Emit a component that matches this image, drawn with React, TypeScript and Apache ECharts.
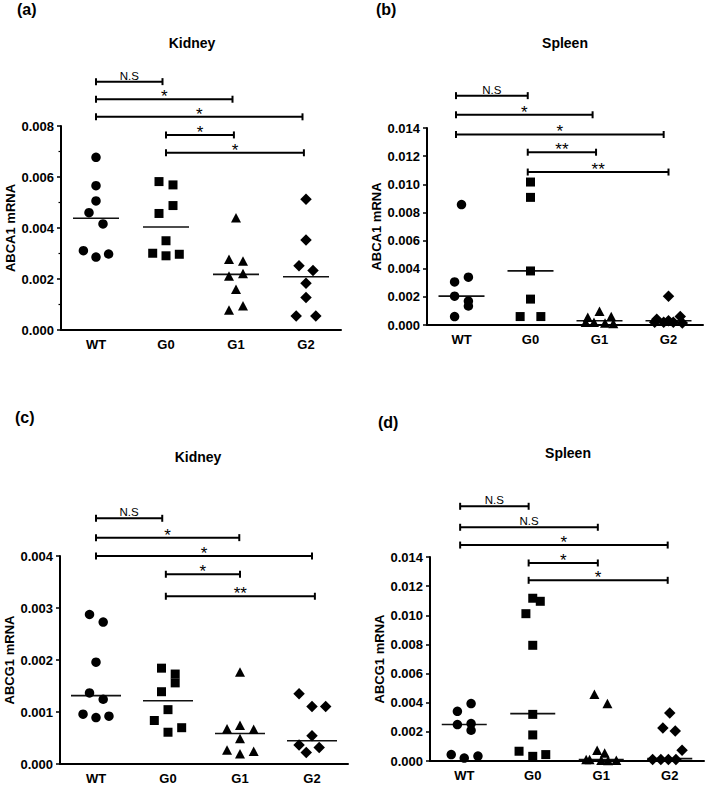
import React, { useEffect, useRef } from "react";
import * as echarts from "echarts";

const FONT = '"Liberation Sans", Arial, Helvetica, sans-serif';

const categories = ["WT", "G0", "G1", "G2"];
const yTickLabels = (v: number) => v.toFixed(3);

// Panel (a) Kidney ABCA1
const aWT = [0.00677, 0.00566, 0.00506, 0.0046, 0.00416, 0.00311, 0.00286, 0.00298];
const aWTx = [0, 0, 0, -0.1, 0.1, -0.18, 0, 0.18];
const aG0 = [0.00582, 0.00569, 0.00488, 0.00457, 0.0035, 0.00301, 0.00291, 0.00297];
const aG0x = [-0.1, 0.1, 0.1, -0.1, 0, -0.19, 0, 0.19];
const aG1 = [0.0044, 0.00277, 0.00271, 0.00212, 0.00222, 0.0016, 0.00078, 0.00095];
const aG1x = [0, -0.1, 0.1, -0.1, 0.1, 0, -0.1, 0.1];
const aG2 = [0.00513, 0.00353, 0.00252, 0.00233, 0.00183, 0.00127, 0.00055, 0.00055];
const aG2x = [0, 0, -0.1, 0.1, 0, 0, -0.14, 0.14];
const aMedians = [0.00438, 0.00404, 0.00218, 0.00209];
const aBrackets = [[0, 0.95, 0.00974], [0, 1.95, 0.00905], [0, 2.95, 0.00836], [1, 1.97, 0.00765], [1, 2.97, 0.00695]];
const aBracketLabels = ["N.S", "*", "*", "*", "*"];

// Panel (b) Spleen ABCA1
const bWT = [0.00856, 0.0034, 0.00306, 0.00205, 0.0017, 0.00135, 0.0006];
const bWTx = [0, 0.1, -0.1, -0.1, 0.1, 0.1, -0.1];
const bG0 = [0.01016, 0.00907, 0.00384, 0.00184, 0.0006, 0.0006];
const bG0x = [0, 0, 0, 0, -0.15, 0.15];
const bG1 = [0.00098, 0.00055, 0.0006, 0.0002, 0.00015, 0.0002, 0.0001];
const bG1x = [0, -0.17, 0.17, -0.08, 0.08, -0.2, 0.2];
const bG2 = [0.00205, 0.0006, 0.0004, 0.0002, 0.0002, 0.0002, 0.00015, 0.0003];
const bG2x = [0, 0.17, -0.17, -0.2, -0.07, 0.07, 0.2, 0];
const bMedians = [0.00205, 0.00385, 0.0003, 0.0003];
const bBrackets = [[-0.08, 0.96, 0.0163], [-0.08, 1.9, 0.01494], [-0.08, 2.93, 0.01354], [0.96, 1.95, 0.01228], [0.96, 3, 0.01087]];
const bBracketLabels = ["N.S", "*", "*", "**", "**"];

// Panel (c) Kidney ABCG1
const cWT = [0.002875, 0.00273, 0.001957, 0.001366, 0.001245, 0.000957, 0.000894, 0.000919];
const cWTx = [-0.09, 0.1, 0, -0.09, 0.1, -0.18, 0, 0.18];
const cG0 = [0.001843, 0.00173, 0.00156, 0.00139, 0.001045, 0.000837, 0.000698, 0.000611];
const cG0x = [-0.09, 0.1, 0.1, -0.09, 0, -0.19, 0.19, 0];
const cG1 = [0.001768, 0.00068, 0.000743, 0.000668, 0.000491, 0.000271, 0.000195, 0.000245];
const cG1x = [0, -0.18, 0, 0.19, 0, -0.18, 0, 0.19];
const cG2 = [0.001353, 0.001107, 0.001107, 0.000541, 0.000365, 0.000315, 0.000221];
const cG2x = [-0.18, 0, 0.19, 0, -0.18, 0.1, -0.08];
const cMedians = [0.001315, 0.001215, 0.000586, 0.000447];
const cBrackets = [[0, 0.92, 0.004725], [0, 1.99, 0.004353], [0, 3, 0.004], [0.97, 2, 0.003649], [0.97, 3.04, 0.003226]];
const cBracketLabels = ["N.S", "*", "*", "*", "**"];

// Panel (d) Spleen ABCG1
const dWT = [0.00394, 0.00341, 0.0025, 0.00257, 0.00211, 0.00044, 0.0002, 0.00034];
const dWTx = [0.1, -0.1, -0.1, 0.1, 0.1, -0.19, 0, 0.2];
const dG0 = [0.01117, 0.01096, 0.01011, 0.00794, 0.0032, 0.00179, 0.00067, 0.00032, 0.00044];
const dG0x = [0, 0.11, -0.1, 0, 0, 0, -0.2, 0, 0.19];
const dG1 = [0.00458, 0.00394, 0.00073, 0.00055, 0.0001, 0.00005, 0.00003, 0.00005, 0.0001];
const dG1x = [-0.1, 0.09, -0.06, 0.05, -0.17, 0, 0.1, 0.22, -0.22];
const dG2 = [0.0033, 0.00227, 0.00206, 0.00073, 0.0001, 0.0001, 0.0001, 0.0001];
const dG2x = [0, -0.1, 0.08, 0.18, -0.25, -0.13, -0.02, 0.09];
const dMedians = [0.0025, 0.00325, 0.0001, 0.00016];
const dBrackets = [[-0.06, 0.94, 0.01748], [-0.06, 1.95, 0.01604], [-0.06, 2.97, 0.01482], [0.94, 1.95, 0.01359], [0.94, 2.97, 0.0124]];
const dBracketLabels = ["N.S", "N.S", "*", "*", "*"];

const symbols = ["circle", "rect", "triangle", "diamond"];
const symbolSizes: any[] = [9.5, 9, [10, 9.5], 11.5];

const panelsData = [
  { letter: "(a)", title: "Kidney", yName: "ABCA1 mRNA", yMax: 0.008, yInterval: 0.002, minor: true,
    groups: [[aWT, aWTx], [aG0, aG0x], [aG1, aG1x], [aG2, aG2x]], medians: aMedians, brackets: aBrackets, labels: aBracketLabels },
  { letter: "(b)", title: "Spleen", yName: "ABCA1 mRNA", yMax: 0.014, yInterval: 0.002, minor: false,
    groups: [[bWT, bWTx], [bG0, bG0x], [bG1, bG1x], [bG2, bG2x]], medians: bMedians, brackets: bBrackets, labels: bBracketLabels },
  { letter: "(c)", title: "Kidney", yName: "ABCG1 mRNA", yMax: 0.004, yInterval: 0.001, minor: false,
    groups: [[cWT, cWTx], [cG0, cG0x], [cG1, cG1x], [cG2, cG2x]], medians: cMedians, brackets: cBrackets, labels: cBracketLabels },
  { letter: "(d)", title: "Spleen", yName: "ABCG1 mRNA", yMax: 0.014, yInterval: 0.002, minor: false,
    groups: [[dWT, dWTx], [dG0, dG0x], [dG1, dG1x], [dG2, dG2x]], medians: dMedians, brackets: dBrackets, labels: dBracketLabels },
];

const layouts = [
  { left: 61, top: 126, width: 280, height: 204, letterX: 17, letterY: 1, titleX: 192, titleY: 43, medianW: 46 },
  { left: 427, top: 128, width: 276, height: 197, letterX: 376, letterY: 1, titleX: 565, titleY: 43, medianW: 46 },
  { left: 60, top: 556, width: 288, height: 212, letterX: 15, letterY: 409, titleX: 198, titleY: 457, medianW: 50 },
  { left: 430, top: 557, width: 274, height: 204, letterX: 378, letterY: 414, titleX: 568, titleY: 453, medianW: 45 },
];

function buildOption() {
  const grid: any[] = [];
  const xAxis: any[] = [];
  const yAxis: any[] = [];
  const series: any[] = [];
  const graphic: any[] = [];

  panelsData.forEach((p, i) => {
    const L = layouts[i];
    grid.push({ left: L.left, top: L.top, width: L.width, height: L.height, containLabel: false });
    xAxis.push({
      type: "value", gridIndex: i, min: -0.5, max: 3.5,
      axisLine: { show: true, onZero: false, lineStyle: { color: "#000", width: 2 } },
      axisTick: { show: false }, splitLine: { show: false },
      axisLabel: {
        customValues: [0, 1, 2, 3],
        formatter: (v: number) => categories[Math.round(v)] ?? "",
        color: "#000", fontWeight: "bold", fontSize: 13, fontFamily: FONT, margin: 8,
      },
    });
    yAxis.push({
      type: "value", gridIndex: i, min: 0, max: p.yMax, interval: p.yInterval,
      axisLine: { show: true, onZero: false, lineStyle: { color: "#000", width: 2 } },
      axisTick: { show: true, length: 4, lineStyle: { color: "#000", width: 1.5 } },
      minorTick: { show: p.minor, splitNumber: 2, length: 2.5, lineStyle: { color: "#000", width: 1.2 } },
      splitLine: { show: false }, minorSplitLine: { show: false },
      axisLabel: { formatter: yTickLabels, color: "#000", fontWeight: "bold", fontSize: 13, fontFamily: FONT, margin: 7 },
      name: p.yName, nameLocation: "middle", nameGap: 44,
      nameTextStyle: { color: "#000", fontWeight: "bold", fontSize: 13, fontFamily: FONT },
    });

    series.push({
      type: "scatter", xAxisIndex: i, yAxisIndex: i, z: 1,
      symbol: "rect", symbolSize: [L.medianW, 1.6],
      itemStyle: { color: "#111", opacity: 1 },
      data: p.medians.map((m, k) => [k, m]),
    });

    p.groups.forEach((g, k) => {
      const vals = g[0] as number[];
      const jit = g[1] as number[];
      series.push({
        type: "scatter", xAxisIndex: i, yAxisIndex: i, z: 2,
        symbol: symbols[k], symbolSize: symbolSizes[k],
        itemStyle: { color: "#000", opacity: 1 },
        data: vals.map((v, j) => [k + jit[j], v]),
      });
    });

    const labels = p.labels;
    series.push({
      type: "custom", xAxisIndex: i, yAxisIndex: i, clip: false, z: 3,
      encode: { x: [0, 1], y: 2 },
      data: p.brackets,
      renderItem: (params: any, api: any) => {
        const x1 = api.value(0), x2 = api.value(1), y = api.value(2);
        const p1 = api.coord([x1, y]);
        const p2 = api.coord([x2, y]);
        const h = 3.5;
        const st = { stroke: "#000", lineWidth: 2 };
        const lab = labels[params.dataIndex];
        const star = lab.indexOf("*") >= 0;
        return {
          type: "group",
          children: [
            { type: "line", shape: { x1: p1[0], y1: p1[1], x2: p2[0], y2: p2[1] }, style: st },
            { type: "line", shape: { x1: p1[0], y1: p1[1] - h, x2: p1[0], y2: p1[1] + h }, style: st },
            { type: "line", shape: { x1: p2[0], y1: p2[1] - h, x2: p2[0], y2: p2[1] + h }, style: st },
            {
              type: "text", x: (p1[0] + p2[0]) / 2, y: p1[1] + (star ? 6 : 0),
              style: { text: lab, align: "center", verticalAlign: "bottom", fill: "#000", font: `${star ? 17 : 11.5}px ${FONT}` },
            },
          ],
        };
      },
    });

    graphic.push({
      type: "text", x: L.letterX, y: L.letterY,
      style: { text: p.letter, fill: "#000", font: `bold 16px ${FONT}`, align: "left", verticalAlign: "top" },
    });
    graphic.push({
      type: "text", x: L.titleX, y: L.titleY,
      style: { text: p.title, fill: "#000", font: `bold 14px ${FONT}`, align: "center", verticalAlign: "middle" },
    });
  });

  return { animation: false, backgroundColor: "#fff", grid, xAxis, yAxis, series, graphic };
}

export default function App() {
  const ref = useRef<HTMLDivElement>(null);
  useEffect(() => {
    if (!ref.current) return;
    const chart = echarts.init(ref.current, undefined, { renderer: "svg" });
    chart.setOption(buildOption() as any);
    return () => chart.dispose();
  }, []);
  return <div ref={ref} style={{ position: "fixed", left: 0, top: 0, width: 706, height: 785, background: "#fff" }} />;
}
